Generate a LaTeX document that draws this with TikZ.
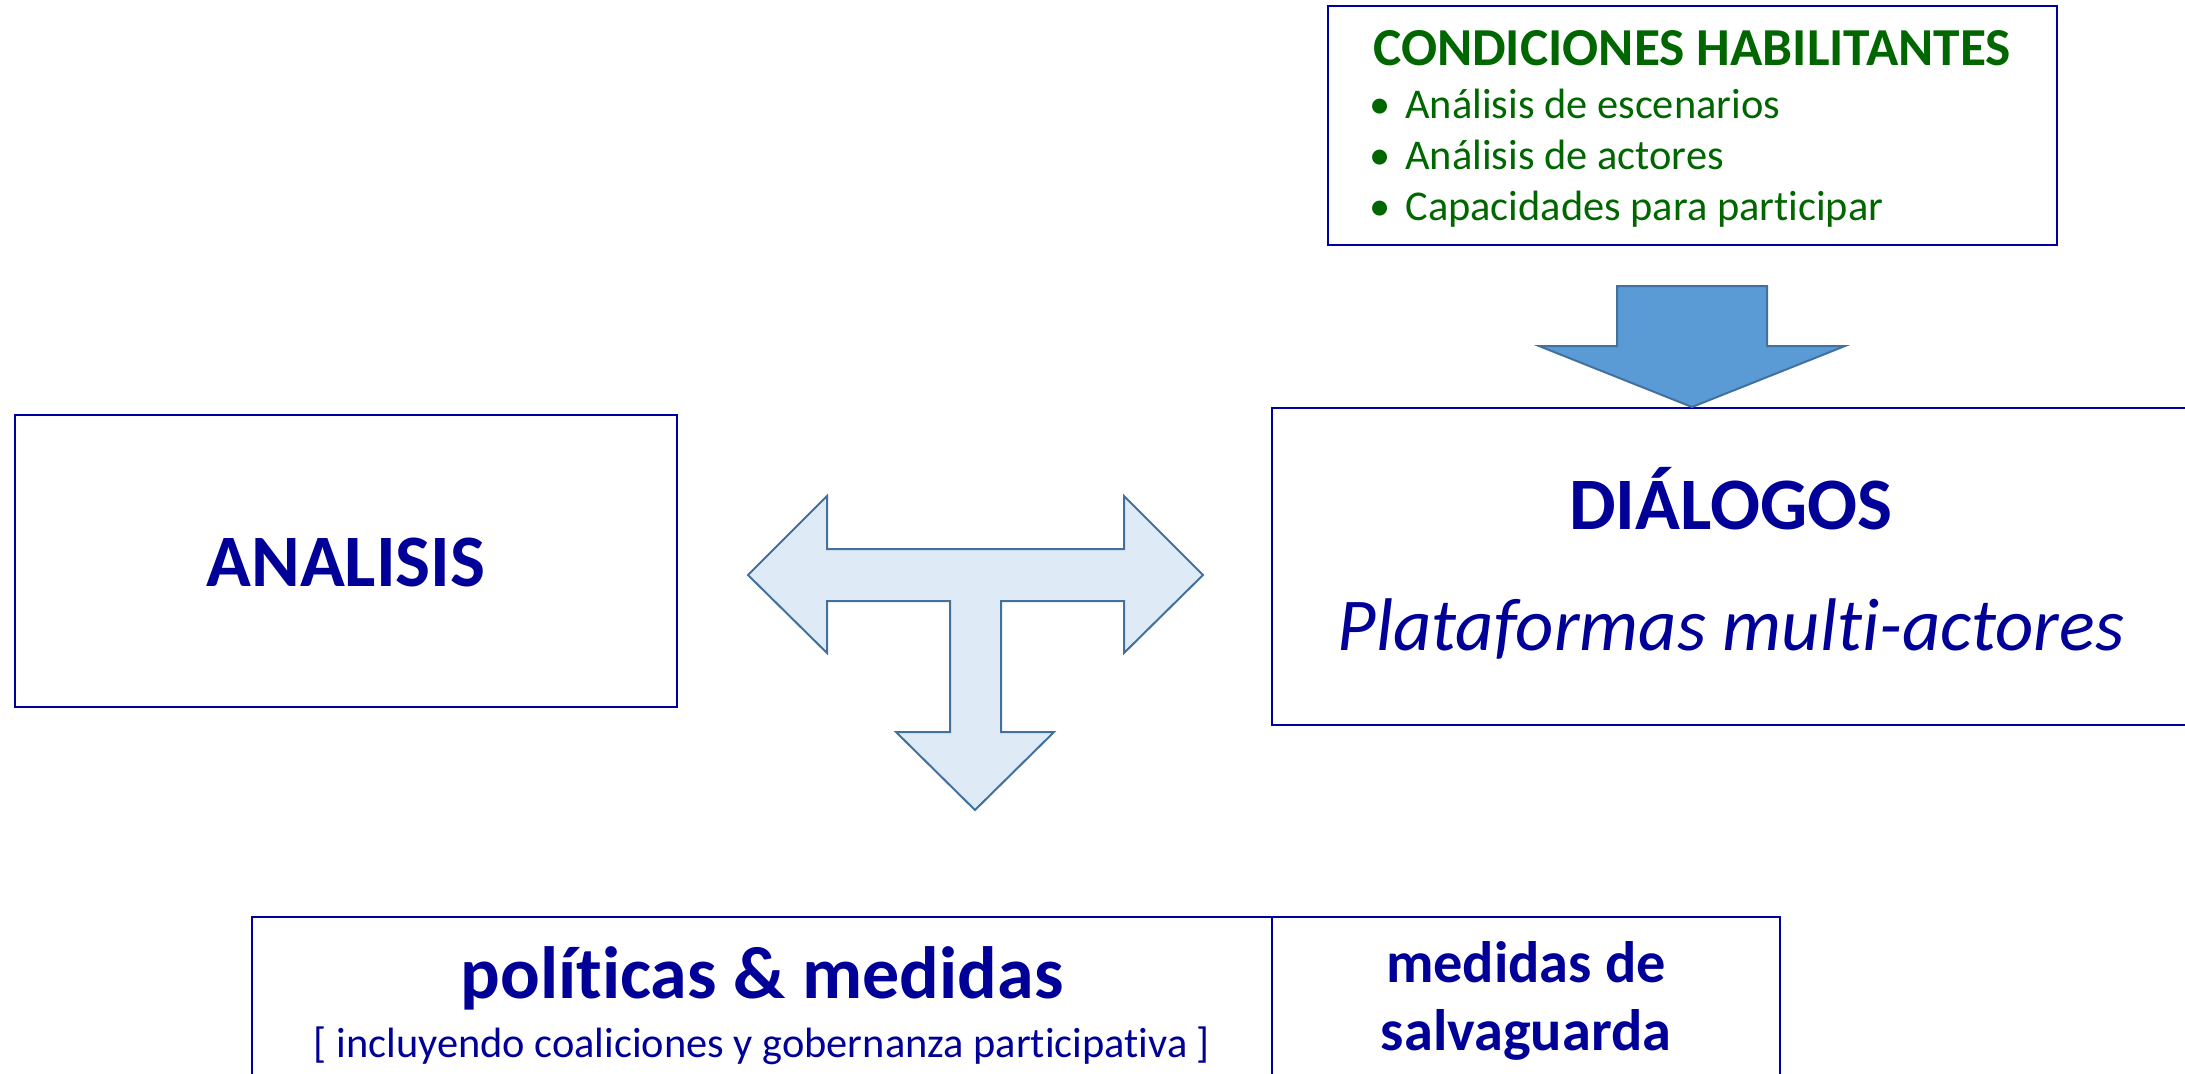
\documentclass[tikz,border=0pt]{standalone}
\usepackage{fontspec}
\setmainfont{Carlito}[Ligatures=NoCommon]
\usetikzlibrary{fit}
\definecolor{navytxt}{RGB}{0,0,153}
\definecolor{boxline}{RGB}{0,0,160}
\definecolor{greentxt}{RGB}{0,102,0}
\definecolor{arrowfill}{RGB}{91,155,213}
\definecolor{arrowline}{RGB}{65,113,156}
\definecolor{tfill}{RGB}{222,235,247}
\tikzset{
  boxshape/.style={draw=boxline, line width=1pt, inner sep=0pt, fill=none},
  bigtxt/.style={font=\fontsize{37}{44}\selectfont\bfseries, text=navytxt, anchor=base, inner sep=0pt},
  italtxt/.style={font=\fontsize{37.3}{44}\selectfont\itshape, text=navytxt, anchor=base, inner sep=0pt},
  midtxt/.style={font=\fontsize{29.2}{34}\selectfont\bfseries, text=navytxt, anchor=base, inner sep=0pt},
  smalltxt/.style={font=\fontsize{21.2}{25}\selectfont, text=navytxt, anchor=base, inner sep=0pt},
  titletxt/.style={font=\fontsize{26.7}{31}\selectfont\bfseries, text=greentxt, anchor=base, inner sep=0pt},
  itemtxt/.style={font=\fontsize{21.2}{25}\selectfont, text=greentxt, anchor=base west, inner sep=0pt},
  blockarrow/.style={draw=arrowline, line width=1pt, line join=miter},
}
\begin{document}
\begin{tikzpicture}[x=0.5pt, y=-0.5pt]
\useasboundingbox (0,0) rectangle (2185,1073);
\clip (0,0) rectangle (2185,1073);

% boxes
\node[boxshape, fit={(1328,6) (2057,245)}] (cond) {};
\node[boxshape, fit={(15,415) (677,707)}] (analisis) {};
\node[boxshape, fit={(1272,408) (2191,725)}] (dialogos) {};
\node[boxshape, fit={(252,917) (1780,1090)}] (bottom) {};
\coordinate (divtop) at (1272,917);
\coordinate (divbot) at (1272,1090);
\draw[draw=boxline, line width=1pt] (divtop) -- (divbot);

% condiciones text
\node[titletxt] (condtitle) at (1692,65) {CONDICIONES HABILITANTES};
\node[itemtxt] (b1) at (1369,118) {•};
\node[itemtxt] (i1) at (1405,118) {Análisis de escenarios};
\node[itemtxt] (b2) at (1369,169) {•};
\node[itemtxt] (i2) at (1405,169) {Análisis de actores};
\node[itemtxt] (b3) at (1369,220) {•};
\node[itemtxt] (i3) at (1405,220) {Capacidades para participar};

% analisis
\node[bigtxt] (analisistxt) at (346,586) {ANALISIS};

% dialogos
\node[bigtxt] (dialogostxt) at (1731,529) {DIÁLOGOS};
\node[italtxt] (plataformas) at (1731,650) {Plataformas multi-actores};

% bottom
\node[bigtxt] (politicas) at (762,998) {políticas \& medidas};
\node[smalltxt] (incluyendo) at (762,1057) {[ incluyendo coaliciones y gobernanza participativa ]};
\node[midtxt] (medidas1) at (1526,982) {medidas de};
\node[midtxt] (medidas2) at (1526,1050) {salvaguarda};

% blue down arrow from condiciones to dialogos
\draw[blockarrow, fill=arrowfill]
  (1617,286) -- (1767,286) -- (1767,346) -- (1845,346) -- (1692,407)
  -- (1539,346) -- (1617,346) -- cycle;

% T arrow
\draw[blockarrow, fill=tfill]
  (748,575) -- (827,496) -- (827,549) -- (1124,549) -- (1124,496) -- (1203,575)
  -- (1124,653) -- (1124,601) -- (1001,601) -- (1001,732) -- (1054,732)
  -- (975,810) -- (896,732) -- (950,732) -- (950,601) -- (827,601)
  -- (827,653) -- cycle;
\end{tikzpicture}
\end{document}
